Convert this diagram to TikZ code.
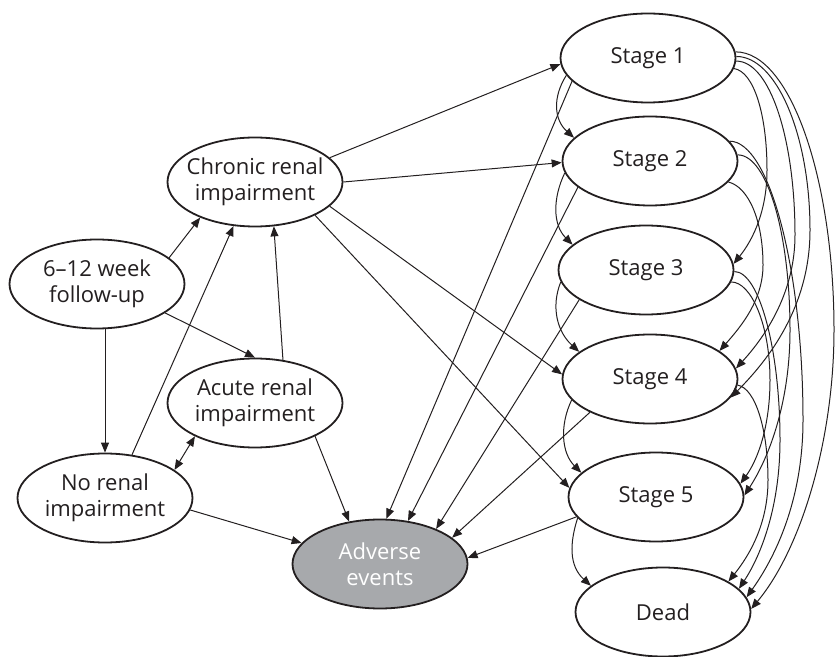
\documentclass[tikz,border=0pt]{standalone}
\usepackage{fontspec}
\setmainfont{Open Sans}
\usetikzlibrary{shapes.geometric,arrows.meta}
\definecolor{ink}{HTML}{231F20}
\definecolor{aefill}{HTML}{A7A9AC}
\newcommand{\mk}[1]{\makebox[0pt]{#1}}
\begin{document}
\begin{tikzpicture}[x=0.5pt,y=-0.5pt,
  st/.style={ellipse, draw=ink, line width=0.9pt, minimum width=87.5pt, minimum height=44.5pt,
    inner sep=0pt, align=center, text=ink, font=\fontsize{11}{13}\selectfont},
  arr/.style={-{Triangle[length=5pt,width=4pt]}, draw=ink, line width=0.5pt},
  dbl/.style={{Triangle[length=5pt,width=4pt]}-{Triangle[length=5pt,width=4pt]}, draw=ink, line width=0.5pt}]
\useasboundingbox (0,0) rectangle (835,657);

\node[st] (fu) at (97,284) {\mk{6–12 week}\\\mk{follow-up}};
\node[st] (cr) at (255,182) {\mk{Chronic renal}\\\mk{impairment}};
\node[st] (acu) at (255,403) {\mk{Acute renal}\\\mk{impairment}};
\node[st] (nr) at (105,498) {\mk{No renal}\\\mk{impairment}};
\node[st, fill=aefill, text=white] (ae) at (380,564) {\mk{Adverse}\\\mk{events}};
\node[st] (s1) at (648,58) {\mk{Stage 1}};
\node[st] (s2) at (650,161) {\mk{Stage 2}};
\node[st] (s3) at (646,270) {\mk{Stage 3}};
\node[st] (s4) at (650,379) {\mk{Stage 4}};
\node[st] (s5) at (656,497) {\mk{Stage 5}};
\node[st] (dead) at (663,612) {\mk{Dead}};

% left part
\draw[arr] (fu.20) -- (cr.213);
\draw[arr] (fu.337) -- (acu.90);
\draw[arr] (fu.south -| nr.north) -- (nr.north);
\draw[arr] (nr.58) -- (cr.244);
\draw[arr] (acu.57) -- (cr.293);
\draw[dbl] (nr.22) -- (acu.209);
\draw[arr] (nr.352) -- (ae.165);
\draw[arr] (acu.331) -- (ae.126);

% chronic to stages
\draw[arr] (cr.18) -- (s1.184);
\draw[arr] (cr.0) -- (s2.181);
\draw[arr] (cr.342) -- (s4.177);
\draw[arr] (cr.331) -- (s5.174);

% stages to adverse events
\draw[arr] (s1.197) -- (ae.82);
\draw[arr] (s2.200) -- (ae.57);
\draw[arr] (s3.204) -- (ae.32);
\draw[arr] (s4.209) -- (ae.20);
\draw[arr] (s5.194) -- (ae.4);

% left-side progressions
\draw[arr] (s1.192) .. controls +(-14,22) and +(-20,-18) .. (s2.163);
\draw[arr] (s2.188) .. controls +(-12,25) and +(-20,-20) .. (s3.161);
\draw[arr] (s3.188) .. controls +(-10,25) and +(-22,-20) .. (s4.159);
\draw[arr] (s4.195) .. controls +(-12,25) and +(-20,-20) .. (s5.162);
\draw[arr] (s5.195) .. controls +(-8,25) and +(-22,-20) .. (dead.160);

% right-side transitions
\draw[arr] (s1.4) .. controls +(55,0) and +(0,-150) .. (834,330) .. controls +(0,110) and +(50,-60) .. (dead.2);
\draw[arr] (s1.1.5) .. controls +(40,0) and +(0,-95) .. (810,230) .. controls +(0,70) and +(45,-45) .. (s4.347);
\draw[arr] (s1.358) .. controls +(34,0) and +(0,-95) .. (795,235) .. controls +(0,55) and +(32,-35) .. (s4.7);
\draw[arr] (s1.353) .. controls +(20,3) and +(0,-55) .. (767,170) .. controls +(0,40) and +(20,-25) .. (s3.4);
\draw[arr] (s2.14) .. controls +(40,0) and +(0,-150) .. (803,420) .. controls +(0,75) and +(32,-45) .. (dead.10);
\draw[arr] (s2.4) .. controls +(30,0) and +(0,-95) .. (790,330) .. controls +(0,70) and +(26,-40) .. (s5.1);
\draw[arr] (s2.345) .. controls +(20,5) and +(0,-45) .. (763,265) .. controls +(0,35) and +(22,-25) .. (s4.22);
\draw[arr] (s3.359) .. controls +(25,0) and +(0,-90) .. (780,440) .. controls +(0,65) and +(23,-35) .. (dead.17);
\draw[arr] (s3.352) .. controls +(20,0) and +(0,-55) .. (770,380) .. controls +(0,45) and +(18,-25) .. (s5.9);
\draw[arr] (s4.356) .. controls +(18,3) and +(0,-50) .. (768,480) .. controls +(0,45) and +(20,-25) .. (dead.25);
\end{tikzpicture}
\end{document}
